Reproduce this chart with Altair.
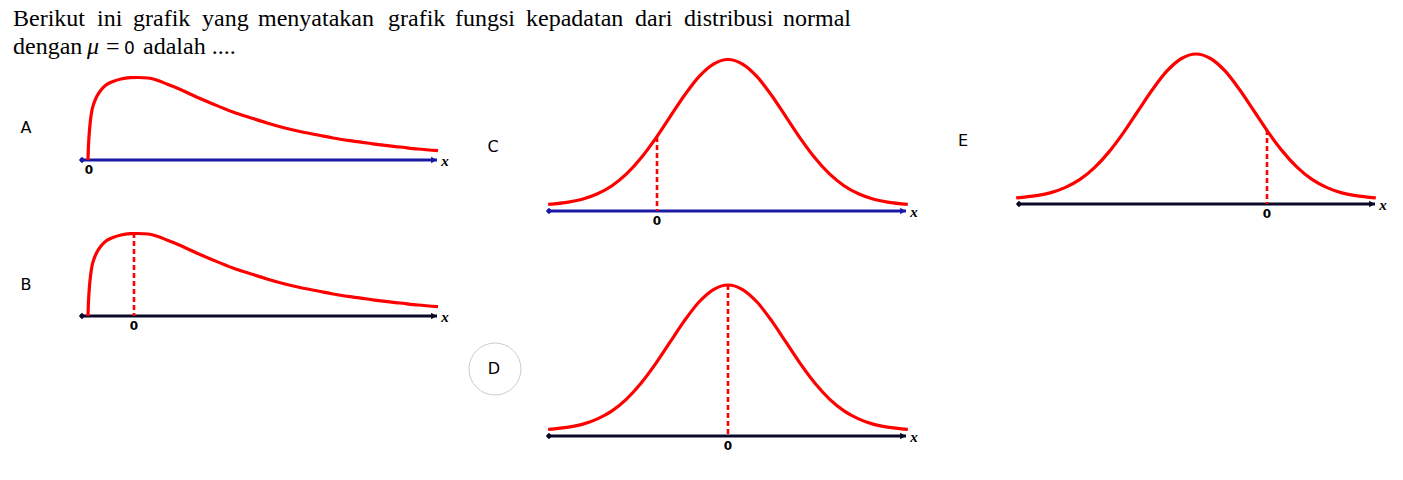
import altair as alt
import pandas as pd

W, H = 1403, 480

# ---------------- text content ----------------
title_words = ["Berikut", "ini", "grafik", "yang", "menyatakan", "grafik",
               "fungsi", "kepadatan", "dari", "distribusi", "normal"]
line2_parts = ["dengan", "μ", "=", "0", "adalah ...."]
option_letters = ["A", "B", "C", "D", "E"]
zero_label = "0"
axis_label = "x"

# ---------------- curve profiles ----------------
# symmetric bell (C, D, E): offset from peak in spread units, relative height
bell_u = [-3.1, -2.75, -2.5, -2.25, -2.0, -1.75, -1.5, -1.25, -1.0, -0.75, -0.5, -0.25, 0.0,
          0.25, 0.5, 0.75, 1.0, 1.25, 1.5, 1.75, 2.0, 2.25, 2.5, 2.75, 3.1]
bell_h = [0.008, 0.023, 0.044, 0.080, 0.135, 0.216, 0.325, 0.458, 0.607, 0.755, 0.883, 0.969, 1.0,
          0.969, 0.883, 0.755, 0.607, 0.458, 0.325, 0.216, 0.135, 0.080, 0.044, 0.023, 0.008]

# right-skewed curve (A, B): horizontal distance from start, height above axis
skew_dx = [0, 0.3, 0.8, 1.5, 2.5, 4, 6, 9, 13, 18, 25, 33, 42, 50, 60, 70, 80, 90, 100,
           112, 125, 145, 165, 179, 195, 212, 230, 245, 262, 279, 295, 312, 330, 350]
skew_h = [0, 10, 20, 30, 40, 50, 57, 64, 70, 75, 78.5, 81, 82.3, 82.5, 82, 79.5, 75.5, 71.5, 67,
          61.5, 56, 48, 41.5, 37, 32.5, 28.5, 25, 22, 19.3, 17, 14.8, 13, 11, 9.3]

# ---------------- layout of the five small graphs ----------------
# name, kind, anchor x (peak / start), curve base y, x unit, height unit,
# axis y, axis x0, axis x1, zero x, dashed top y (None = no dashed line), axis colour
panels = [
    ("A", "skew", 88, 160, 1, 1, 160, 80, 437, 89, None, "#1a1aa6"),
    ("B", "skew", 88, 316, 1, 1, 316, 80, 437, 134, 233, "#0a0a28"),
    ("C", "bell", 728, 205.5, 58, 146, 211, 547, 906, 657, 137, "#1a1aa6"),
    ("D", "bell", 728, 430.5, 58, 145.5, 436, 547, 906, 728, 285, "#0a0a28"),
    ("E", "bell", 1196, 199, 58, 145, 204, 1017, 1375, 1267, 130, "#0a0a28"),
]
letter_pos = {"A": (26, 128), "B": (26, 285), "C": (493, 147), "D": (494, 369), "E": (963, 141)}
title_word_x = [13, 97, 133, 202, 258, 388, 455, 526, 635, 684, 783]
title_y1, title_y2 = 26, 54
line2_x = [13, 87, 106, 124, 143]
line2_kind = ["serif", "mu", "serif", "sans", "serif"]

# ---------------- build tables ----------------
curve_rows, dash_rows, axis_rows, left_rows, right_rows, zero_rows, xl_rows = [], [], [], [], [], [], []
for (name, kind, ax, base, ux, uh, axy, x0, x1, zx, dtop, col) in panels:
    if kind == "bell":
        for i, (u, h) in enumerate(zip(bell_u, bell_h)):
            curve_rows.append({"g": name, "i": i, "px": ax + u * ux, "py": base - h * uh})
    else:
        for i, (d, h) in enumerate(zip(skew_dx, skew_h)):
            curve_rows.append({"g": name, "i": i, "px": ax + d * ux, "py": base - h * uh})
    if dtop is not None:
        dash_rows.append({"g": name, "px": zx, "py": dtop, "py2": axy})
    axis_rows.append({"g": name, "px": x0, "px2": x1, "py": axy, "c": col})
    left_rows.append({"g": name, "px": x0 + 2, "py": axy, "c": col})
    right_rows.append({"g": name, "px": x1 - 3, "py": axy, "c": col})
    zero_rows.append({"g": name, "px": zx, "py": axy + 10, "t": zero_label})
    xl_rows.append({"g": name, "px": x1 + 8, "py": axy + 1, "t": axis_label})

curves = pd.DataFrame(curve_rows)
dashes = pd.DataFrame(dash_rows)
axes = pd.DataFrame(axis_rows)
lefts = pd.DataFrame(left_rows)
rights = pd.DataFrame(right_rows)
zeros = pd.DataFrame(zero_rows)
xlabels = pd.DataFrame(xl_rows)
letters = pd.DataFrame([{"t": k, "px": v[0], "py": v[1]} for k, v in letter_pos.items()])
title1 = pd.DataFrame({"t": title_words, "px": title_word_x, "py": [title_y1] * len(title_words)})
title2 = pd.DataFrame({"t": line2_parts, "px": line2_x, "py": [title_y2] * len(line2_parts),
                       "k": line2_kind})
circle = pd.DataFrame({"px": [letter_pos["D"][0] + 1], "py": [letter_pos["D"][1]]})

xs = alt.Scale(domain=[0, W], nice=False, zero=False)
ys = alt.Scale(domain=[0, H], nice=False, zero=False, reverse=True)
X = alt.X("px:Q", scale=xs, axis=None)
Y = alt.Y("py:Q", scale=ys, axis=None)

axis_layer = alt.Chart(axes).mark_rule(strokeWidth=3).encode(
    x=X, x2="px2:Q", y=Y, color=alt.Color("c:N", scale=None))
left_layer = alt.Chart(lefts).mark_point(shape="diamond", filled=True, size=40, opacity=1).encode(
    x=X, y=Y, color=alt.Color("c:N", scale=None))
right_layer = alt.Chart(rights).mark_point(shape="triangle-right", filled=True, size=45, opacity=1).encode(
    x=X, y=Y, color=alt.Color("c:N", scale=None))
curve_layer = alt.Chart(curves).mark_line(color="#ff0000", strokeWidth=3.2, interpolate="monotone").encode(
    x=X, y=Y, detail="g:N", order="i:Q")
dash_layer = alt.Chart(dashes).mark_rule(color="#ff0000", strokeWidth=2.6, strokeDash=[5, 3]).encode(
    x=X, y=Y, y2="py2:Q")
zero_layer = alt.Chart(zeros).mark_text(font="DejaVu Sans", fontWeight="bold", fontSize=12,
                                        color="#000000", align="center", baseline="middle").encode(
    x=X, y=Y, text="t:N")
xl_layer = alt.Chart(xlabels).mark_text(font="Liberation Serif", fontWeight="bold", fontStyle="italic",
                                        fontSize=15, color="#000000", align="center", baseline="middle").encode(
    x=X, y=Y, text="t:N")
letter_layer = alt.Chart(letters).mark_text(font="DejaVu Sans", fontSize=16, color="#000000",
                                            align="center", baseline="middle").encode(
    x=X, y=Y, text="t:N")
circle_layer = alt.Chart(circle).mark_point(shape="circle", size=2704, filled=False,
                                            stroke="#cccccc", strokeWidth=1, opacity=1).encode(x=X, y=Y)
t1_layer = alt.Chart(title1).mark_text(font="Liberation Serif", fontSize=24, color="#000000",
                                       align="left", baseline="alphabetic").encode(x=X, y=Y, text="t:N")
t2a = alt.Chart(title2).transform_filter("datum.k == 'serif'").mark_text(
    font="Liberation Serif", fontSize=24, color="#000000", align="left", baseline="alphabetic").encode(
    x=X, y=Y, text="t:N")
t2b = alt.Chart(title2).transform_filter("datum.k == 'mu'").mark_text(
    font="Liberation Serif", fontStyle="italic", fontSize=24, color="#000000", align="left",
    baseline="alphabetic").encode(x=X, y=Y, text="t:N")
t2c = alt.Chart(title2).transform_filter("datum.k == 'sans'").mark_text(
    font="DejaVu Sans", fontSize=17, color="#000000", align="left", baseline="alphabetic").encode(
    x=X, y=Y, text="t:N")

chart = alt.layer(
    circle_layer, axis_layer, left_layer, right_layer, dash_layer, curve_layer,
    zero_layer, xl_layer, letter_layer, t1_layer, t2a, t2b, t2c
).properties(width=W, height=H, padding=0, autosize="none",
             background="#ffffff").configure_view(stroke=None)

chart.save("out.html", embed_options={"renderer": "svg", "actions": False})
